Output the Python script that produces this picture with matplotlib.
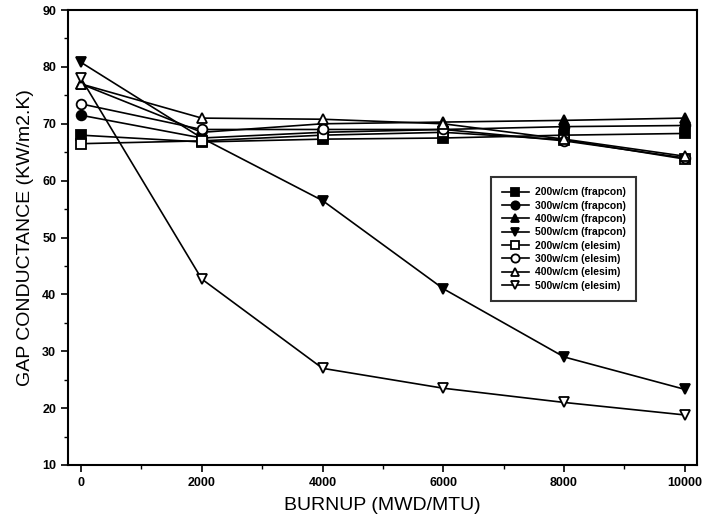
import matplotlib.pyplot as plt
from matplotlib.ticker import MultipleLocator

plt.rcParams['font.family'] = ['Liberation Sans', 'DejaVu Sans']

# Data
burnup = [0, 2000, 4000, 6000, 8000, 10000]
frap_200 = [68.0, 66.8, 67.3, 67.5, 68.0, 68.3]
frap_300 = [71.5, 67.5, 68.5, 69.0, 69.5, 69.7]
frap_400 = [77.0, 68.5, 70.0, 70.3, 70.6, 71.0]
frap_500 = [80.8, 67.5, 56.5, 41.0, 29.0, 23.3]
eles_200 = [66.5, 67.0, 68.0, 68.5, 67.2, 63.8]
eles_300 = [73.5, 69.0, 69.0, 69.0, 67.0, 64.0]
eles_400 = [77.0, 71.0, 70.8, 70.0, 67.3, 64.3]
eles_500 = [78.0, 42.7, 27.0, 23.5, 21.0, 18.8]

series = [
    (frap_200, 's', 'black', '200w/cm (frapcon)'),
    (frap_300, 'o', 'black', '300w/cm (frapcon)'),
    (frap_400, '^', 'black', '400w/cm (frapcon)'),
    (frap_500, 'v', 'black', '500w/cm (frapcon)'),
    (eles_200, 's', 'white', '200w/cm (elesim)'),
    (eles_300, 'o', 'white', '300w/cm (elesim)'),
    (eles_400, '^', 'white', '400w/cm (elesim)'),
    (eles_500, 'v', 'white', '500w/cm (elesim)'),
]

fig = plt.figure(figsize=(7.05, 5.29), dpi=100)
ax = fig.add_axes([0.0965, 0.121, 0.892, 0.860])

for vals, m, fc, lab in series:
    ax.plot(burnup, vals, color='black', lw=1.2, marker=m, markersize=7,
            markerfacecolor=fc, markeredgecolor='black', markeredgewidth=1.3,
            label=lab)

ax.set_xlim(-215, 10200)
ax.set_ylim(10, 90)
ax.xaxis.set_major_locator(MultipleLocator(2000))
ax.xaxis.set_minor_locator(MultipleLocator(1000))
ax.yaxis.set_major_locator(MultipleLocator(10))
ax.yaxis.set_minor_locator(MultipleLocator(5))
ax.tick_params(which='major', direction='out', length=5, width=1.2, labelsize=9)
ax.tick_params(which='minor', direction='out', length=3, width=1.0)
for lbl in ax.get_xticklabels() + ax.get_yticklabels():
    lbl.set_fontweight('bold')
for sp in ax.spines.values():
    sp.set_linewidth(1.5)

ax.set_xlabel('BURNUP (MWD/MTU)', fontsize=14, labelpad=6)
ax.set_ylabel('GAP CONDUCTANCE (KW/m2.K)', fontsize=14, labelpad=6)

leg = ax.legend(loc='upper left', bbox_to_anchor=(0.665, 0.645),
                prop={'size': 7.5, 'weight': 'bold'}, frameon=True,
                fancybox=False, edgecolor='black', labelspacing=0.32,
                handlelength=2.6, handletextpad=0.6, borderpad=1.0,
                markerscale=0.85)
leg.get_frame().set_linewidth(1.5)

fig.savefig('out.png', dpi=100)
